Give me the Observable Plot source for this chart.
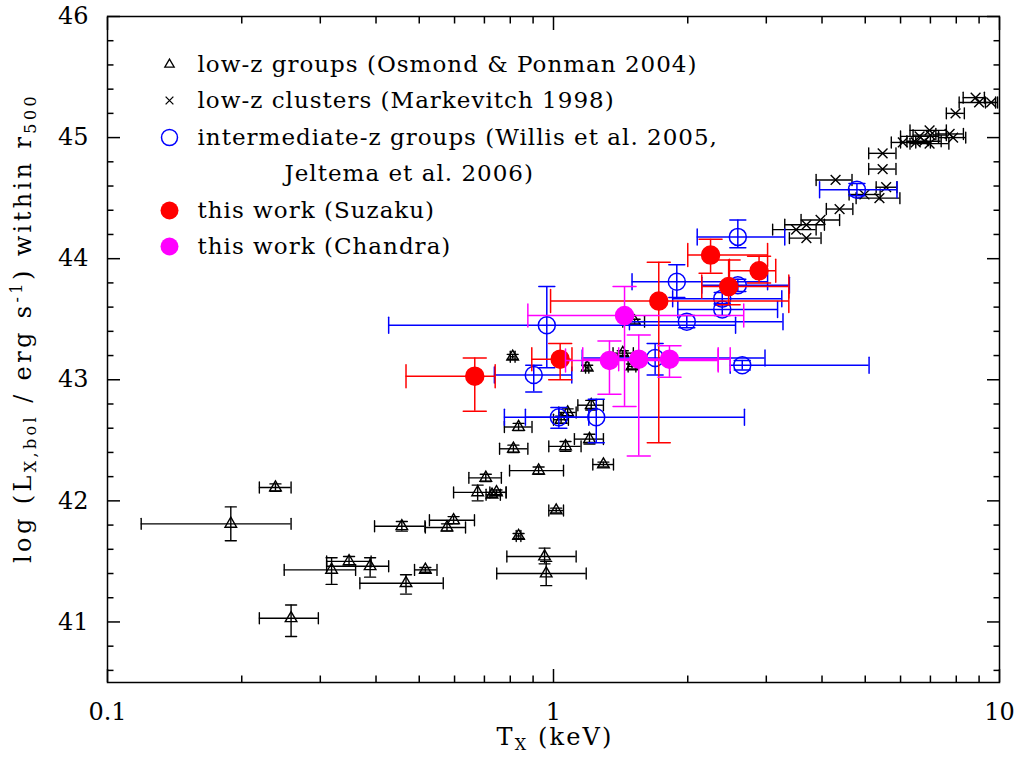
<!DOCTYPE html>
<html><head><meta charset="utf-8">
<script src="https://cdn.jsdelivr.net/npm/d3@7"></script>
<script src="https://cdn.jsdelivr.net/npm/@observablehq/plot@0.6"></script>
<style>
body{margin:0;background:#fff}
svg{font-family:"DejaVu Serif",serif}
</style>
</head><body><div id="chart"></div>
<script>
// ---- low-z groups (Osmond & Ponman 2004) ----
const grpT   = [0.189,0.238,0.258,0.318,0.348,0.388,0.457,0.467,0.516,0.577,0.597,0.676,0.705,0.728,0.745,0.813,0.835,0.835,0.926,0.955,0.963,1.014,1.064,1.076,1.04,1.204,1.215,1.294,0.81,1.19,1.43,1.50,1.52];
const grpTlo = [0.119,0.219,0.219,0.249,0.31,0.31,0.397,0.368,0.488,0.516,0.527,0.597,0.646,0.706,0.72,0.757,0.776,0.825,0.797,0.786,0.746,0.976,0.976,1.028,1.0,1.114,1.134,1.225,0.80,1.18,1.36,1.47,1.43];
const grpThi = [0.258,0.258,0.297,0.36,0.39,0.427,0.515,0.566,0.548,0.635,0.665,0.783,0.764,0.76,0.783,0.876,0.895,0.845,1.053,1.124,1.184,1.053,1.153,1.124,1.08,1.294,1.294,1.363,0.82,1.20,1.51,1.53,1.60];
const grpL   = [41.81,42.11,41.03,41.43,41.50,41.46,41.79,41.32,41.43,41.78,41.84,42.07,42.19,42.05,42.07,42.43,42.61,41.71,42.25,41.54,41.40,41.92,42.45,42.73,42.67,42.51,42.79,42.30,43.19,43.10,43.22,43.11,43.48];
const grpLlo = [41.67,42.08,40.88,41.31,41.46,41.37,41.75,41.23,41.41,41.75,41.81,42.00,42.16,42.03,42.05,42.40,42.58,41.69,42.22,41.48,41.30,41.90,42.41,42.70,42.64,42.47,42.75,42.28,43.17,43.08,43.20,43.09,43.46];
const grpLhi = [41.95,42.14,41.14,41.53,41.54,41.53,41.83,41.39,41.45,41.81,41.87,42.13,42.22,42.07,42.09,42.46,42.64,41.73,42.28,41.61,41.50,41.94,42.49,42.76,42.70,42.55,42.83,42.32,43.21,43.12,43.24,43.13,43.50];

// ---- low-z clusters (Markevitch 1998) ----
const cluT   = [3.50,3.69,3.69,3.97,4.38,4.29,4.98,5.38,5.57,5.47,5.47,6.07,6.49,6.62,6.78,6.97,6.97,7.0,7.73,7.87,7.97,8.84,9.0,9.58];
const cluTlo = [3.10,3.38,3.30,3.59,4.09,3.88,4.60,4.77,5.29,5.09,5.09,5.72,6.0,6.0,6.2,6.3,6.3,6.4,7.2,7.3,7.6,8.29,8.12,9.3];
const cluThi = [3.88,3.98,4.05,4.38,4.69,4.67,5.40,5.98,5.89,5.86,5.86,6.49,7.0,7.3,7.4,7.6,7.7,7.6,8.3,8.4,8.34,9.25,9.8,9.9];
const cluL   = [44.24,44.17,44.28,44.32,44.41,44.65,44.53,44.50,44.59,44.74,44.87,44.96,44.96,45.01,44.97,45.06,44.95,45.02,45.03,45.00,45.20,45.33,45.29,45.29];

// ---- intermediate-z groups (Willis et al. 2005, Jeltema et al. 2006) ----
const midT   = [0.903,0.966,1.028,1.247,1.69,2.65,1.99,1.89,2.39,2.39,2.59,2.59,4.79];
const midTlo = [0.737,0.427,0.865,0.776,1.16,2.49,1.48,1.50,1.90,1.85,2.15,2.10,3.95];
const midThi = [1.099,2.56,1.20,2.68,2.98,5.1,3.27,3.02,3.18,3.25,3.38,3.30,5.89];
const midL   = [43.04,43.45,42.69,42.69,43.18,43.12,43.48,43.81,43.58,43.67,43.78,44.18,44.57];
const midLlo = [42.90,43.10,42.60,42.48,43.04,43.08,43.43,43.68,43.53,43.62,43.73,44.09,44.52];
const midLhi = [43.12,43.77,42.77,42.84,43.30,43.16,43.53,43.95,43.63,43.72,43.83,44.32,44.62];

// ---- this work (Suzaku) ----
const suzT   = [0.666,1.035,1.722,2.25,2.47,2.89];
const suzTlo = [0.467,0.894,0.985,2.00,2.15,2.48];
const suzThi = [0.74,1.10,3.37,3.02,3.37,3.15];
const suzL   = [43.03,43.17,43.65,44.03,43.77,43.90];
const suzLlo = [42.74,43.00,42.48,43.88,43.62,43.80];
const suzLhi = [43.18,43.30,43.97,44.16,43.99,44.02];

// ---- this work (Chandra) ----
const chaT   = [1.443,1.335,1.553,1.82];
const chaTlo = [0.876,1.064,1.163,1.40];
const chaThi = [2.67,2.34,2.49,2.34];
const chaL   = [43.53,43.16,43.17,43.17];
const chaLlo = [42.78,42.88,42.37,43.02];
const chaLhi = [43.77,43.32,43.37,43.28];

// ---- axes ----
const xMajor = [0.1, 1, 10];
const xMinor = [0.2,0.3,0.4,0.5,0.6,0.7,0.8,0.9,2,3,4,5,6,7,8,9];
const yMajor = [41, 42, 43, 44, 45, 46];
const yMinor = [40.6,40.8,41.2,41.4,41.6,41.8,42.2,42.4,42.6,42.8,43.2,43.4,43.6,43.8,44.2,44.4,44.6,44.8,45.2,45.4,45.6,45.8];

const legendLabels = [
  "low-z groups (Osmond & Ponman 2004)",
  "low-z clusters (Markevitch 1998)",
  "intermediate-z groups (Willis et al. 2005,",
  "Jeltema et al. 2006)",
  "this work (Suzaku)",
  "this work (Chandra)"
];

function rows(T, Tlo, Thi, L, Llo, Lhi) {
  return T.map((t, i) => ({T: t, Tlo: Tlo[i], Thi: Thi[i], L: L[i],
    Llo: Llo ? Llo[i] : null, Lhi: Lhi ? Lhi[i] : null}));
}
const groups = rows(grpT, grpTlo, grpThi, grpL, grpLlo, grpLhi);
const clusters = rows(cluT, cluTlo, cluThi, cluL);
const mids = rows(midT, midTlo, midThi, midL, midLlo, midLhi);
const suz = rows(suzT, suzTlo, suzThi, suzL, suzLlo, suzLhi);
const cha = rows(chaT, chaTlo, chaThi, chaL, chaLlo, chaLhi);

const capShape = {draw(ctx, l) { ctx.moveTo(0, -l / 2); ctx.lineTo(0, l / 2); }};

function errMarks(data, color, cap, sw, withY = true) {
  const m = [
    Plot.ruleY(data, {y: "L", x1: "Tlo", x2: "Thi", stroke: color, strokeWidth: sw}),
    Plot.vector(data, {x: "Tlo", y: "L", length: cap, rotate: 0, anchor: "start", shape: capShape, stroke: color, strokeWidth: sw}),
    Plot.vector(data, {x: "Thi", y: "L", length: cap, rotate: 0, anchor: "start", shape: capShape, stroke: color, strokeWidth: sw})
  ];
  if (withY) m.push(
    Plot.ruleX(data, {x: "T", y1: "Llo", y2: "Lhi", stroke: color, strokeWidth: sw}),
    Plot.vector(data, {x: "T", y: "Llo", length: cap, rotate: 90, anchor: "start", shape: capShape, stroke: color, strokeWidth: sw}),
    Plot.vector(data, {x: "T", y: "Lhi", length: cap, rotate: 90, anchor: "start", shape: capShape, stroke: color, strokeWidth: sw})
  );
  return m;
}

const tickW = 1.5, maj = 13, mnr = 6.5;
const blank = () => "";
const legY = [48, 84, 121, 157, 194, 230];
const legFont = 23;

const svg = Plot.plot({
  width: 1018, height: 757,
  marginLeft: 107, marginRight: 19, marginTop: 16, marginBottom: 75,
  style: {fontFamily: "DejaVu Serif", fontSize: "24px", background: "white"},
  x: {type: "log", domain: [0.1, 10]},
  y: {domain: [40.5, 46]},
  marks: [
    // inward ticks on all four sides
    Plot.axisX(xMajor, {anchor: "bottom", tickSize: maj, dy: -maj, tickFormat: blank, label: null, strokeWidth: tickW}),
    Plot.axisX(xMinor, {anchor: "bottom", tickSize: mnr, dy: -mnr, tickFormat: blank, label: null, strokeWidth: tickW}),
    Plot.axisX(xMajor, {anchor: "top", tickSize: maj, dy: maj, tickFormat: blank, label: null, strokeWidth: tickW}),
    Plot.axisX(xMinor, {anchor: "top", tickSize: mnr, dy: mnr, tickFormat: blank, label: null, strokeWidth: tickW}),
    Plot.axisY(yMajor, {anchor: "left", tickSize: maj, dx: maj, tickFormat: blank, label: null, strokeWidth: tickW}),
    Plot.axisY(yMinor, {anchor: "left", tickSize: mnr, dx: mnr, tickFormat: blank, label: null, strokeWidth: tickW}),
    Plot.axisY(yMajor, {anchor: "right", tickSize: maj, dx: -maj, tickFormat: blank, label: null, strokeWidth: tickW}),
    Plot.axisY(yMinor, {anchor: "right", tickSize: mnr, dx: -mnr, tickFormat: blank, label: null, strokeWidth: tickW}),
    // tick labels
    Plot.axisX(xMajor, {anchor: "bottom", tickSize: 0, tickPadding: 20, tickFormat: d => String(d), label: null, fontSize: 24}),
    Plot.axisY(yMajor, {anchor: "left", tickSize: 0, tickPadding: 19, tickFormat: d => String(d), label: null, fontSize: 24}),
    Plot.frame({stroke: "black", strokeWidth: 1.5}),

    // low-z groups
    ...errMarks(groups, "black", 11, 1.4),
    Plot.dot(groups, {x: "T", y: "L", symbol: "triangle", r: 4.3, stroke: "black", strokeWidth: 1.4, fill: "none"}),
    // low-z clusters
    ...errMarks(clusters, "black", 11, 1.4, false),
    Plot.dot(clusters, {x: "T", y: "L", symbol: "times", r: 4.5, stroke: "black", strokeWidth: 1.4}),
    // intermediate-z groups
    ...errMarks(mids, "#0000ff", 16, 1.5),
    Plot.dot(mids, {x: "T", y: "L", r: 8.5, stroke: "#0000ff", strokeWidth: 1.5, fill: "none"}),
    // Suzaku
    ...errMarks(suz, "#ff0000", 23, 1.5),
    Plot.dot(suz, {x: "T", y: "L", r: 9, fill: "#ff0000", stroke: "#ff0000"}),
    // Chandra
    ...errMarks(cha, "#ff00ff", 23, 1.5),
    Plot.dot(cha, {x: "T", y: "L", r: 9, fill: "#ff00ff", stroke: "#ff00ff"}),

    // legend
    Plot.dot([0], {frameAnchor: "top-left", dx: 62, dy: legY[0], symbol: "triangle", r: 3.5, stroke: "black", strokeWidth: 1.3, fill: "none"}),
    Plot.dot([0], {frameAnchor: "top-left", dx: 62, dy: legY[1], symbol: "times", r: 3.6, stroke: "black", strokeWidth: 1.3}),
    Plot.dot([0], {frameAnchor: "top-left", dx: 62, dy: legY[2], r: 8, stroke: "#0000ff", strokeWidth: 1.5, fill: "none"}),
    Plot.dot([0], {frameAnchor: "top-left", dx: 62, dy: legY[4], r: 9, fill: "#ff0000"}),
    Plot.dot([0], {frameAnchor: "top-left", dx: 62, dy: legY[5], r: 9, fill: "#ff00ff"}),
    ...legendLabels.map((t, i) => Plot.text([t], {
      frameAnchor: "top-left", dx: i === 3 ? 177 : 90, dy: legY[i],
      textAnchor: "start", lineAnchor: "middle", fontSize: legFont, fill: "black",
      text: d => d
    }))
  ]
});

// axis titles with sub/superscripts
const s = d3.select(svg);
const xl = s.append("text").attr("x", 555).attr("y", 745).attr("text-anchor", "middle")
  .attr("font-size", 24).attr("fill", "black");
xl.append("tspan").text("T");
xl.append("tspan").attr("dy", 5).attr("font-size", 16).text("X");
xl.append("tspan").attr("dy", -5).text(" (keV)");

const yl = s.append("text").attr("transform", "translate(31,328) rotate(-90)").attr("text-anchor", "middle")
  .attr("font-size", 24).attr("fill", "black");
yl.append("tspan").text("log (L");
yl.append("tspan").attr("dy", 5).attr("font-size", 16).text("X,bol");
yl.append("tspan").attr("dy", -5).text(" / erg s");
yl.append("tspan").attr("dy", -9).attr("font-size", 16).text("-1");
yl.append("tspan").attr("dy", 9).text(") within r");
yl.append("tspan").attr("dy", 5).attr("font-size", 16).text("500");

document.getElementById("chart").appendChild(svg);

// widen letter spacing to match the wide stroke font of the original,
// measuring the rendered extent on screen
function fitSpacing(sel, target, vertical) {
  const node = sel.node();
  const n = node.textContent.length;
  const ext = () => { const r = node.getBoundingClientRect(); return vertical ? r.height : r.width; };
  sel.style("letter-spacing", "0px");
  const w0 = ext();
  sel.style("letter-spacing", "2px");
  const w2 = ext();
  const per = (w2 - w0) / 2 || n;
  const sp = Math.max(0, (target - w0) / per);
  sel.style("letter-spacing", sp + "px");
  return sp;
}
const legTexts = s.selectAll("text").filter(function() { return legendLabels.includes(this.textContent); });
const firstLeg = legTexts.filter(function() { return this.textContent === legendLabels[0]; });
if (!firstLeg.empty()) {
  const sp = fitSpacing(firstLeg, 500, false);
  legTexts.style("letter-spacing", sp + "px");
}
fitSpacing(xl, 117, false);
fitSpacing(yl, 470, true);
</script>
</body></html>
